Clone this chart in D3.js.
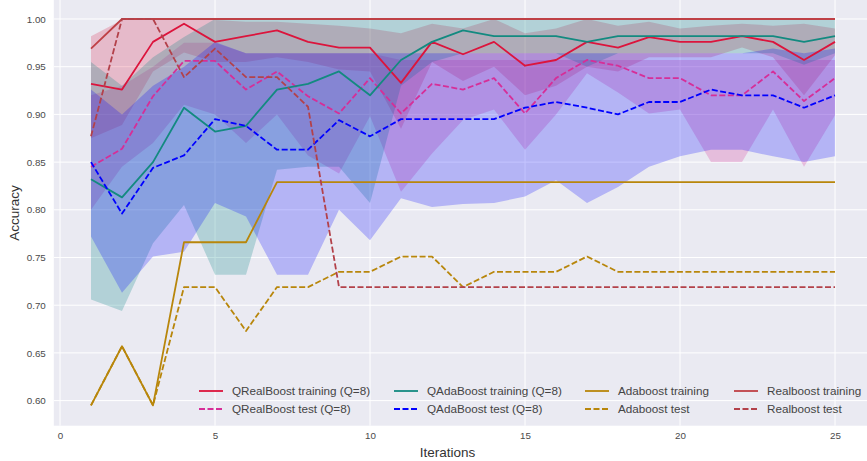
<!DOCTYPE html>
<html><head><meta charset="utf-8">
<script src="https://cdn.jsdelivr.net/npm/d3@7/dist/d3.min.js"></script>
<style>body{margin:0;background:#fff}svg{display:block}</style>
</head><body>
<svg id="chart" width="867" height="461"></svg>
<script>
const iterations = d3.range(1, 26);
const xTicks = [0, 5, 10, 15, 20, 25];
const yTicks = [0.60, 0.65, 0.70, 0.75, 0.80, 0.85, 0.90, 0.95, 1.00];

const qrbTrain = [0.932,0.926,0.976,0.995,0.976,0.982,0.988,0.976,0.970,0.970,0.933,0.976,0.963,0.976,0.951,0.957,0.976,0.970,0.981,0.976,0.976,0.982,0.976,0.957,0.976];
const qrbTrainLo = [0.875,0.889,0.945,0.965,0.955,0.955,0.960,0.955,0.947,0.945,0.885,0.955,0.935,0.950,0.920,0.930,0.950,0.945,0.960,0.960,0.960,0.970,0.960,0.920,0.962];
const qrbTrainHi = [0.982,0.999,1.000,1.000,0.999,0.997,0.997,0.995,0.993,0.990,0.985,0.995,0.990,1.000,0.985,0.990,1.000,0.993,0.997,0.990,0.993,0.995,0.993,0.995,0.990];

const qrbTest = [0.845,0.864,0.919,0.956,0.956,0.926,0.945,0.919,0.901,0.938,0.901,0.932,0.926,0.938,0.901,0.938,0.957,0.951,0.938,0.938,0.920,0.920,0.945,0.914,0.938];
const qrbTestLo = [0.800,0.845,0.870,0.910,0.900,0.870,0.900,0.857,0.838,0.898,0.819,0.859,0.894,0.905,0.863,0.900,0.943,0.923,0.901,0.905,0.850,0.850,0.905,0.845,0.899];
const qrbTestHi = [0.920,0.930,0.950,0.975,0.975,0.964,0.964,0.964,0.964,0.964,0.957,0.957,0.957,0.957,0.957,0.957,0.957,0.957,0.957,0.957,0.957,0.957,0.957,0.957,0.957];

const qabTrain = [0.832,0.813,0.850,0.907,0.882,0.888,0.926,0.932,0.945,0.920,0.957,0.976,0.988,0.982,0.982,0.982,0.976,0.982,0.982,0.982,0.982,0.982,0.982,0.976,0.982];
const qabTrainLo = [0.706,0.694,0.765,0.805,0.732,0.732,0.842,0.845,0.845,0.807,0.930,0.955,0.964,0.964,0.964,0.964,0.950,0.964,0.964,0.964,0.964,0.964,0.964,0.952,0.964];
const qabTrainHi = [0.955,0.930,0.960,0.981,1.000,1.000,1.000,1.000,1.000,1.000,1.000,1.000,1.000,1.000,1.000,1.000,1.000,1.000,1.000,1.000,1.000,1.000,1.000,1.000,1.000];

const qabTest = [0.850,0.796,0.844,0.857,0.895,0.888,0.863,0.863,0.894,0.877,0.895,0.895,0.895,0.895,0.907,0.913,0.907,0.900,0.913,0.913,0.926,0.920,0.920,0.907,0.920];
const qabTestLo = [0.772,0.713,0.751,0.756,0.807,0.793,0.732,0.732,0.800,0.768,0.812,0.803,0.806,0.807,0.814,0.831,0.807,0.824,0.845,0.856,0.863,0.863,0.856,0.850,0.856];
const qabTestHi = [0.926,0.900,0.930,0.950,0.976,0.964,0.964,0.964,0.964,0.964,0.964,0.964,0.964,0.964,0.964,0.964,0.964,0.964,0.964,0.964,0.964,0.964,0.969,0.964,0.969];

const adaTrain = [0.595,0.657,0.595,0.766,0.766,0.766,0.829,0.829,0.829,0.829,0.829,0.829,0.829,0.829,0.829,0.829,0.829,0.829,0.829,0.829,0.829,0.829,0.829,0.829,0.829];
const adaTest = [0.595,0.657,0.595,0.719,0.719,0.673,0.719,0.719,0.735,0.735,0.751,0.751,0.719,0.735,0.735,0.735,0.751,0.735,0.735,0.735,0.735,0.735,0.735,0.735,0.735];
const realTrain = [0.969,1,1,1,1,1,1,1,1,1,1,1,1,1,1,1,1,1,1,1,1,1,1,1,1];
const realTest = [0.877,1.0,1.0,0.939,0.969,0.939,0.939,0.908,0.719,0.719,0.719,0.719,0.719,0.719,0.719,0.719,0.719,0.719,0.719,0.719,0.719,0.719,0.719,0.719,0.719];

const bands = [
  {lo: qrbTrainLo, hi: qrbTrainHi, color: "#dc143c", op: 0.22},
  {lo: qrbTestLo, hi: qrbTestHi, color: "#d62e98", op: 0.24},
  {lo: qabTrainLo, hi: qabTrainHi, color: "#008080", op: 0.24},
  {lo: qabTestLo, hi: qabTestHi, color: "#0000ff", op: 0.23}
];
const series = [
  {name: "QRealBoost training (Q=8)", v: qrbTrain, color: "#dc143c", dash: null},
  {name: "QRealBoost test (Q=8)", v: qrbTest, color: "#d62e98", dash: "6,2.5"},
  {name: "QAdaBoost training (Q=8)", v: qabTrain, color: "#138a80", dash: null},
  {name: "QAdaBoost test (Q=8)", v: qabTest, color: "#0000ff", dash: "6,2.5"},
  {name: "Adaboost training", v: adaTrain, color: "#b8860b", dash: null},
  {name: "Adaboost test", v: adaTest, color: "#b8860b", dash: "6,2.5"},
  {name: "Realboost training", v: realTrain, color: "#bf4046", dash: null},
  {name: "Realboost test", v: realTest, color: "#b3414a", dash: "6,2.5"}
];

const svg = d3.select("#chart");
const pL = 53.8, pT = 0, pB = 425.7, pR = 872.2;
const x = d3.scaleLinear().domain([-0.2, 26.2]).range([pL, pR]);
const y = d3.scaleLinear().domain([0.5737, 1.0199]).range([pB, pT]);

svg.append("defs").append("clipPath").attr("id", "clip")
  .append("rect").attr("x", pL).attr("y", pT).attr("width", pR - pL).attr("height", pB - pT);

svg.append("rect").attr("x", pL).attr("y", pT).attr("width", pR - pL).attr("height", pB - pT).attr("fill", "#eaeaf2");

const grid = svg.append("g");
grid.selectAll(".gy").data(yTicks).join("line")
  .attr("x1", pL).attr("x2", pR).attr("y1", d => y(d)).attr("y2", d => y(d))
  .attr("stroke", "#fff").attr("stroke-width", 1);
grid.selectAll(".gx").data(xTicks).join("line")
  .attr("y1", pT).attr("y2", pB).attr("x1", d => x(d)).attr("x2", d => x(d))
  .attr("stroke", "#fff").attr("stroke-width", 1);

const plot = svg.append("g").attr("clip-path", "url(#clip)");
bands.forEach(b => {
  const area = d3.area().x((d, i) => x(iterations[i])).y0((d, i) => y(b.lo[i])).y1((d, i) => y(b.hi[i]));
  plot.append("path").datum(b.lo).attr("d", area).attr("fill", b.color).attr("fill-opacity", b.op).attr("stroke", "none");
});
series.forEach(s => {
  const line = d3.line().x((d, i) => x(iterations[i])).y(d => y(d));
  plot.append("path").datum(s.v).attr("d", line).attr("fill", "none")
    .attr("stroke", s.color).attr("stroke-width", 1.8)
    .attr("stroke-dasharray", s.dash).attr("stroke-linejoin", "round");
});

const font = "'Liberation Sans', Arial, sans-serif";
const yAxis = d3.axisLeft(y).tickValues(yTicks).tickFormat(d3.format(".2f")).tickSize(0).tickPadding(8);
svg.append("g").attr("transform", `translate(${pL},0)`).call(yAxis)
  .call(g => g.select(".domain").remove())
  .selectAll("text").attr("font-family", font).attr("font-size", 9.8).attr("fill", "#4a4a4a");
const xAxis = d3.axisBottom(x).tickValues(xTicks).tickFormat(d3.format("d")).tickSize(0).tickPadding(6);
svg.append("g").attr("transform", `translate(0,${pB})`).call(xAxis)
  .call(g => g.select(".domain").remove())
  .selectAll("text").attr("font-family", font).attr("font-size", 9.8).attr("fill", "#4a4a4a");

svg.append("text").attr("x", x(12.5)).attr("y", 457).attr("text-anchor", "middle")
  .attr("font-family", font).attr("font-size", 13.5).attr("fill", "#333").text("Iterations");
svg.append("text").attr("transform", "translate(19,213) rotate(-90)").attr("text-anchor", "middle")
  .attr("font-family", font).attr("font-size", 13.5).attr("fill", "#333").text("Accuracy");

const legX = [199, 394, 585, 734];
const legY = [391, 409];
const leg = svg.append("g");
series.forEach((s, i) => {
  const cx = legX[Math.floor(i / 2)], cy = legY[i % 2];
  leg.append("line").attr("x1", cx).attr("x2", cx + 24).attr("y1", cy).attr("y2", cy)
    .attr("stroke", s.color).attr("stroke-width", 1.8).attr("stroke-dasharray", s.dash);
  leg.append("text").attr("x", cx + 33).attr("y", cy).attr("dy", "0.35em")
    .attr("font-family", font).attr("font-size", 11.7).attr("fill", "#444").text(s.name);
});
</script>
</body></html>
